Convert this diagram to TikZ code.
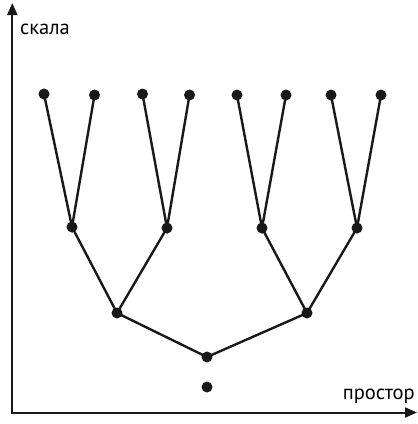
\documentclass[tikz,border=0pt]{standalone}
\usepackage{fontspec}
\setmainfont{PT Sans}
\usetikzlibrary{arrows.meta}
\tikzset{
  dot/.style={circle,fill=black!90,inner sep=0pt,minimum size=11pt},
  edge/.style={line width=2.4pt,black!90},
  axis/.style={line width=2pt,black!90,-{Triangle[length=12pt,width=10pt]}},
  lbl/.style={font=\fontsize{20.5}{22}\selectfont,inner sep=0pt}
}
\begin{document}
\begin{tikzpicture}[x=1pt,y=-1pt]
\useasboundingbox (0,0) rectangle (418,424);
% axes
\coordinate (o) at (12.3,412.5);
\coordinate (ytop) at (12.3,3);
\coordinate (xend) at (417,412.5);
\draw[axis] (o) -- (ytop);
\draw[axis] ([xshift=-1pt]o) -- (xend);
\node[lbl,anchor=base west] (ylab) at (20,34.5) {скала};
\node[lbl,anchor=base east] (xlab) at (415,399) {простор};
% nodes
\node[dot] (a1) at (44,94) {};
\node[dot] (a2) at (94.5,95) {};
\node[dot] (a3) at (142.5,94) {};
\node[dot] (a4) at (189.5,95) {};
\node[dot] (a5) at (237,95) {};
\node[dot] (a6) at (286,95) {};
\node[dot] (a7) at (331,95) {};
\node[dot] (a8) at (381,95) {};
\node[dot] (b1) at (72,227) {};
\node[dot] (b2) at (167,228) {};
\node[dot] (b3) at (262,228) {};
\node[dot] (b4) at (357,228) {};
\node[dot] (c1) at (117,313) {};
\node[dot] (c2) at (307,313) {};
\node[dot] (r) at (207,357) {};
\node[dot] (s) at (207,387) {};
% edges
\draw[edge] (a1.center) -- (b1.center) -- (a2.center);
\draw[edge] (a3.center) -- (b2.center) -- (a4.center);
\draw[edge] (a5.center) -- (b3.center) -- (a6.center);
\draw[edge] (a7.center) -- (b4.center) -- (a8.center);
\draw[edge] (b1.center) -- (c1.center) -- (b2.center);
\draw[edge] (b3.center) -- (c2.center) -- (b4.center);
\draw[edge] (c1.center) -- (r.center) -- (c2.center);
\end{tikzpicture}
\end{document}
